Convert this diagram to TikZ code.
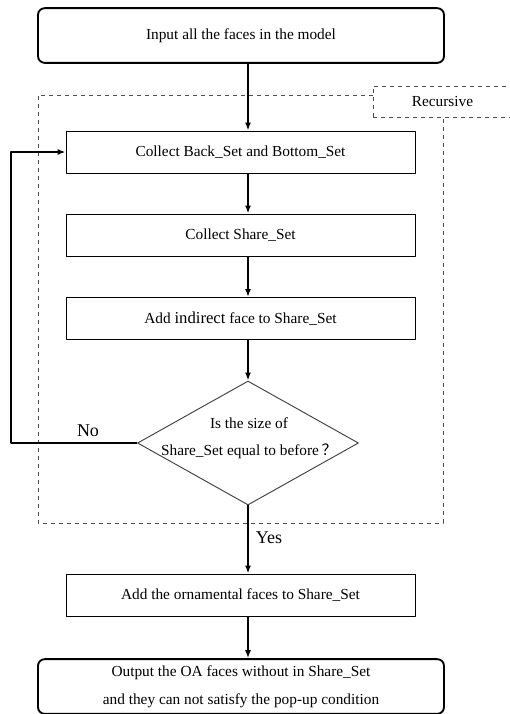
\documentclass[tikz,border=0pt]{standalone}
\usepackage{fontspec}
\setmainfont{Liberation Serif}
\newfontfamily\cjk{Noto Sans CJK SC}
\usetikzlibrary{shapes.geometric,arrows.meta}

\tikzset{
  startstop/.style={draw, rounded corners=5pt, line width=1.4pt, minimum width=304.5pt, minimum height=41pt, align=center, font=\fontsize{11.5}{21}\selectfont},
  procbox/.style={draw, line width=0.7pt, minimum width=261.75pt, minimum height=31.5pt},
  decision/.style={draw=black!75, diamond, line width=0.7pt, minimum width=165.75pt, minimum height=93pt, inner sep=0pt},
  flow/.style={->, line width=1.4pt},
  grouping/.style={dashed, draw=black!70, line width=0.6pt},
  answer/.style={font=\fontsize{13.5}{16}\selectfont}
}

\begin{document}
\begin{tikzpicture}[x=0.75pt,y=-0.75pt,font=\fontsize{11.5}{20}\selectfont, line join=round, >={Latex[length=6pt,width=4.5pt]}]
\useasboundingbox (0,0) rectangle (510,714);
% recursive part
\node[grouping, minimum width=104.25pt, minimum height=23.25pt] (rec) at (442.5,101.5) {Recursive};
\draw[grouping] (373,95) -- (38,95) -- (38,523) -- (443,523) -- (443,117);
% steps
\node[startstop] (input) at (241,35.5) {Input all the faces in the model};
\node[procbox] (back) at (240.5,152) {Collect Back\_Set and Bottom\_Set};
\node[procbox] (share) at (240.5,235) {Collect Share\_Set};
\node[procbox] (indirect) at (240.5,318.5) {Add {\fontsize{12.5}{20}\selectfont indirect} face to Share\_Set};
\node[decision, fill=white] (check) at (248,443) {};
\node[align=center] (checktext) at (249,438) {Is the size of\\Share\_Set equal to before\,{\cjk ？}};
\node[procbox] (orna) at (240.5,595) {Add the ornamental faces to Share\_Set};
\node[startstop] (output) at (241,686.5) {Output the OA faces without in Share\_Set\\and they can not satisfy the pop-up condition};
% arrows
\draw[flow] (input.south -| check.north) -- (back.north -| check.north);
\draw[flow] (back.south -| check.north) -- (share.north -| check.north);
\draw[flow] (share.south -| check.north) -- (indirect.north -| check.north);
\draw[flow] (indirect.south -| check.north) -- (check.north);
\draw[flow] (check.south) -- (orna.north -| check.south);
\draw[flow] (orna.south -| check.south) -- (output.north -| check.south);
\coordinate (loop) at (11,443);
\draw[flow] (check.west) -- (loop) |- (back.west);
\node[answer] (no) at (88,431) {No};
\node[answer] (yes) at (269,538) {Yes};
\end{tikzpicture}
\end{document}
